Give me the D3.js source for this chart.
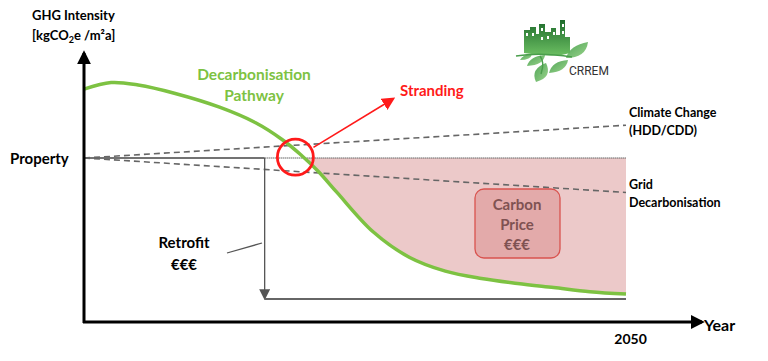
<!DOCTYPE html>
<html>
<head>
<meta charset="utf-8">
<script src="https://cdn.jsdelivr.net/npm/d3@7"></script>
<style>
  body { margin: 0; background: #fff; }
  text { font-family: Lato, "Open Sans", sans-serif; font-weight: bold; }
</style>
</head>
<body>
<svg id="chart"></svg>
<script>
// pathway (year -> GHG intensity, property today = 100)
const pathwayYears = [2020, 2021.5, 2023, 2025, 2027.5, 2029.5, 2031, 2032, 2033, 2034, 2036, 2038, 2040, 2042, 2044, 2046, 2048, 2050];
const pathwayValues = [142, 146, 144.5, 139.5, 131, 121.5, 111, 102, 91.5, 79, 55, 39.5, 31, 26.5, 23.5, 21, 18.5, 17];

const propertyValue = 100;
const startYear = 2020;
const endYear = 2050;
const retrofitYear = 2030;
const retrofitValue = 14;
const climateChangeEnd = 120;
const gridDecarbEnd = 79;
const strandingPoint = [2031.7, 100.5];
const strandingArrow = [[2032.7, 106.5], [2037.1, 136]];
const xTicks = [2050];

const w = 768;
const h = 361;

const xScale = d3.scaleLinear().domain([startYear, endYear]).range([84, 626]);
const yScale = d3.scaleLinear().domain([0, propertyValue]).range([322, 158]);

const svg = d3.select("#chart").attr("width", w).attr("height", h);

const defs = svg.append("defs");
function marker(id, color, size) {
  defs.append("marker")
    .attr("id", id)
    .attr("viewBox", "0 0 10 10")
    .attr("refX", 8).attr("refY", 5)
    .attr("markerWidth", size).attr("markerHeight", size)
    .attr("markerUnits", "userSpaceOnUse")
    .attr("orient", "auto")
    .append("path").attr("d", "M0,0 L10,5 L0,10 Z").attr("fill", color);
}
marker("arrBlack", "#000", 14);
marker("arrGray", "#555", 11);
marker("arrRed", "#ff1a1a", 13);

const pathway = pathwayYears.map((yr, i) => ({ year: yr, value: pathwayValues[i] }));
const smooth = d3.curveCatmullRom.alpha(0.5);

// carbon price area: between property line and pathway, only below property line
defs.append("clipPath").attr("id", "belowProperty")
  .append("rect")
  .attr("x", xScale(startYear)).attr("y", yScale(propertyValue))
  .attr("width", xScale(endYear) - xScale(startYear))
  .attr("height", yScale(0) - yScale(propertyValue));

svg.append("path")
  .datum(pathway)
  .attr("clip-path", "url(#belowProperty)")
  .attr("fill", "#ecc9c9")
  .attr("d", d3.area()
    .x((d) => xScale(d.year))
    .y0(yScale(propertyValue))
    .y1((d) => yScale(d.value))
    .curve(smooth));

// property line: solid until retrofit, dotted afterwards
svg.append("line")
  .attr("x1", xScale(startYear)).attr("x2", xScale(retrofitYear))
  .attr("y1", yScale(propertyValue)).attr("y2", yScale(propertyValue))
  .style("stroke", "#444").style("stroke-width", 1.3);
svg.append("line")
  .attr("x1", xScale(retrofitYear)).attr("x2", xScale(endYear))
  .attr("y1", yScale(propertyValue)).attr("y2", yScale(propertyValue))
  .style("stroke", "#666").style("stroke-width", 1.3)
  .style("stroke-dasharray", "1,1");

// scenario dashed lines
[climateChangeEnd, gridDecarbEnd].forEach((v) => {
  svg.append("line")
    .attr("x1", xScale(startYear)).attr("y1", yScale(propertyValue))
    .attr("x2", xScale(endYear)).attr("y2", yScale(v))
    .style("stroke", "#666").style("stroke-width", 1.6)
    .style("stroke-dasharray", "6,4");
});

// retrofit arrow and target line
svg.append("line")
  .attr("x1", xScale(retrofitYear)).attr("x2", xScale(retrofitYear))
  .attr("y1", yScale(propertyValue)).attr("y2", yScale(retrofitValue) - 1)
  .style("stroke", "#555").style("stroke-width", 1.3)
  .attr("marker-end", "url(#arrGray)");
svg.append("line")
  .attr("x1", xScale(retrofitYear)).attr("x2", xScale(endYear))
  .attr("y1", yScale(retrofitValue)).attr("y2", yScale(retrofitValue))
  .style("stroke", "#666").style("stroke-width", 2);
svg.append("line")
  .attr("x1", 227).attr("y1", 253).attr("x2", 262).attr("y2", 243)
  .style("stroke", "#555").style("stroke-width", 1.3);

// decarbonisation pathway
svg.append("path")
  .datum(pathway)
  .attr("fill", "none")
  .attr("stroke", "#7dc242")
  .attr("stroke-width", 3.5)
  .attr("d", d3.line()
    .x((d) => xScale(d.year))
    .y((d) => yScale(d.value))
    .curve(smooth));

// stranding marker
svg.append("circle")
  .attr("cx", xScale(strandingPoint[0])).attr("cy", yScale(strandingPoint[1]))
  .attr("r", 18)
  .attr("fill", "none").attr("stroke", "#ff1a1a").attr("stroke-width", 2.8);
svg.append("line")
  .attr("x1", xScale(strandingArrow[0][0])).attr("y1", yScale(strandingArrow[0][1]))
  .attr("x2", xScale(strandingArrow[1][0])).attr("y2", yScale(strandingArrow[1][1]))
  .style("stroke", "#ff1a1a").style("stroke-width", 1.6)
  .attr("marker-end", "url(#arrRed)");

// carbon price box
svg.append("rect")
  .attr("x", 475).attr("y", 189).attr("width", 85).attr("height", 69)
  .attr("rx", 9)
  .attr("fill", "#e3aaaa").attr("stroke", "#d9534f").attr("stroke-width", 1.3);
["Carbon", "Price", "€€€"].forEach((t, i) => {
  svg.append("text")
    .attr("x", 517).attr("y", 210 + i * 20)
    .attr("text-anchor", "middle")
    .style("font-size", "15px").style("fill", "#7f5252")
    .text(t);
});

// axes with arrows
svg.append("line")
  .attr("x1", 84).attr("y1", 323).attr("x2", 84).attr("y2", 53)
  .style("stroke", "#000").style("stroke-width", 3)
  .attr("marker-end", "url(#arrBlack)");
svg.append("line")
  .attr("x1", 83).attr("y1", 322).attr("x2", 702).attr("y2", 322)
  .style("stroke", "#000").style("stroke-width", 3)
  .attr("marker-end", "url(#arrBlack)");

const xAxis = svg.append("g")
  .attr("transform", "translate(0,331)")
  .call(d3.axisBottom(xScale).tickValues(xTicks).tickSize(0).tickFormat(d3.format("d")));
xAxis.select(".domain").remove();
xAxis.selectAll("text")
  .style("font-family", "Lato, sans-serif").style("font-weight", "bold")
  .style("font-size", "14px").style("fill", "#000")
  .attr("dx", 4);

// labels
function label(x, y, t, opts = {}) {
  return svg.append("text")
    .attr("x", x).attr("y", y)
    .attr("text-anchor", opts.anchor || "start")
    .style("font-size", (opts.size || 13) + "px")
    .style("fill", opts.color || "#000")
    .text(t);
}
label(32, 20, "GHG Intensity", { size: 13 });
const unit = svg.append("text").attr("x", 32).attr("y", 40).style("font-size", "13px");
unit.append("tspan").text("[kgCO");
unit.append("tspan").attr("dy", 3).style("font-size", "9px").text("2");
unit.append("tspan").attr("dy", -3).text("e /m²a]");

label(10, 164, "Property", { size: 15 });
label(704, 331, "Year", { size: 16 });
label(254, 80, "Decarbonisation", { size: 15.5, color: "#7dc242", anchor: "middle" });
label(254, 101, "Pathway", { size: 15.5, color: "#7dc242", anchor: "middle" });
label(400, 96, "Stranding", { size: 15, color: "#ff1a1a" });
label(629, 117, "Climate Change", { size: 12.5 });
label(629, 135, "(HDD/CDD)", { size: 12.5 });
label(629, 189, "Grid", { size: 12.5 });
label(629, 207, "Decarbonisation", { size: 12.5 });
label(184, 248, "Retrofit", { size: 15, anchor: "middle" });
label(184, 270, "€€€", { size: 15, anchor: "middle" });

// CRREM logo (approximate)
const logo = svg.append("g");
const grad = defs.append("linearGradient").attr("id", "bldg")
  .attr("x1", 0).attr("y1", 0).attr("x2", 0).attr("y2", 1);
grad.append("stop").attr("offset", "0").attr("stop-color", "#1e6b2c");
grad.append("stop").attr("offset", "1").attr("stop-color", "#6cbf62");
const leafGrad = defs.append("linearGradient").attr("id", "leaf")
  .attr("x1", 0).attr("y1", 0).attr("x2", 1).attr("y2", 1);
leafGrad.append("stop").attr("offset", "0").attr("stop-color", "#3e9a45");
leafGrad.append("stop").attr("offset", "1").attr("stop-color", "#8fd07f");
logo.append("path")
  .attr("d", "M524,50 L524,30 L530,30 L530,27 L536,27 L536,34 L539,34 L539,24 L545,24 L545,32 L551,32 L551,28 L556,28 L556,35 L560,35 L560,20 L565,20 L565,37 L570,37 L570,53 Q555,58 524,53 Z")
  .attr("fill", "url(#bldg)");
logo.selectAll("rect.win")
  .data([[526, 33], [532, 33], [541, 28], [541, 37], [547, 36], [553, 32], [562, 24], [562, 31]])
  .enter().append("rect")
  .attr("x", (d) => d[0]).attr("y", (d) => d[1])
  .attr("width", 2).attr("height", 3).attr("fill", "#fff");
[
  "M566,58 Q570,45 588,42 Q586,58 566,58 Z",
  "M527,66 Q530,56 545,55 Q544,65 527,66 Z",
  "M536,82 Q530,69 546,63 Q553,77 536,82 Z",
  "M549,73 Q552,61 568,60 Q566,72 549,73 Z",
  "M520,60 Q523,54 532,54 Q531,60 520,60 Z"
].forEach((d) => logo.append("path").attr("d", d).attr("fill", "url(#leaf)").attr("opacity", 0.9));
logo.append("path")
  .attr("d", "M516,56 Q540,52 572,57 M540,56 Q545,62 541,74")
  .attr("fill", "none").attr("stroke", "#4a9e4c").attr("stroke-width", 1.5);
logo.append("text")
  .attr("x", 569).attr("y", 75)
  .style("font-family", "Roboto, sans-serif").style("font-weight", "normal")
  .style("font-size", "12px").style("fill", "#333")
  .text("CRREM");
</script>
</body>
</html>
